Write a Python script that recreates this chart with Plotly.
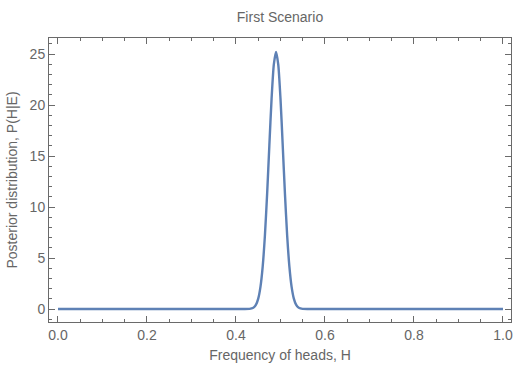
import plotly.graph_objects as go

# Values
freq_heads = [0.0, 0.40, 0.42, 0.43, 0.435, 0.44, 0.445, 0.45, 0.455, 0.46, 0.465, 0.47, 0.475,
              0.48, 0.485, 0.49, 0.495, 0.50, 0.505, 0.51, 0.515, 0.52, 0.525, 0.53,
              0.535, 0.54, 0.545, 0.55, 0.56, 0.58, 1.0]
posterior = [0.0, 0.0, 0.0, 0.02, 0.06, 0.17, 0.44, 1.02, 2.17, 4.16, 7.21, 11.31, 16.06,
             20.63, 23.97, 25.2, 23.97, 20.63, 16.06, 11.31, 7.21, 4.16, 2.17, 1.02,
             0.44, 0.17, 0.06, 0.02, 0.0, 0.0, 0.0]

x_ticks = [0.0, 0.2, 0.4, 0.6, 0.8, 1.0]
x_tick_labels = ["0.0", "0.2", "0.4", "0.6", "0.8", "1.0"]
y_ticks = [0, 5, 10, 15, 20, 25]

title_text = "First Scenario"
x_title = "Frequency of heads, H"
y_title = "Posterior distribution, P(H|E)"

text_color = "#666666"
frame_color = "#6a6a6a"
font_family = "Liberation Sans, Arial, sans-serif"

fig = go.Figure()
fig.add_trace(go.Scatter(
    x=freq_heads, y=posterior, mode="lines",
    line=dict(color="#5E81B5", width=2.4, shape="spline", smoothing=0.6),
    hoverinfo="skip", showlegend=False,
))

axis_common = dict(
    showgrid=False, zeroline=False, showline=True, linecolor=frame_color, linewidth=1,
    mirror="allticks", ticks="inside", ticklen=6, tickcolor=frame_color, tickwidth=1,
    tickfont=dict(family=font_family, size=14, color=text_color),
    automargin=False,
)

fig.update_layout(
    width=522, height=374,
    margin=dict(l=49, r=11, t=38, b=52),
    paper_bgcolor="white", plot_bgcolor="white",
    title=dict(text=title_text, x=(49 + 511) / 2 / 522, xanchor="center", y=1 - 17 / 374, yanchor="middle",
               font=dict(family=font_family, size=14, color=text_color)),
    xaxis=dict(
        range=[-0.0202, 1.018], tickvals=x_ticks, ticktext=x_tick_labels,
        title=dict(text=x_title, font=dict(family=font_family, size=14, color=text_color), standoff=8),
        minor=dict(dtick=0.05, ticks="inside", ticklen=3, tickcolor=frame_color, showgrid=False),
        **axis_common,
    ),
    yaxis=dict(
        range=[-1.27, 26.57], tickvals=y_ticks,
        title=dict(text=y_title, font=dict(family=font_family, size=14, color=text_color), standoff=8),
        minor=dict(dtick=1, ticks="inside", ticklen=3, tickcolor=frame_color, showgrid=False),
        **axis_common,
    ),
)

fig.write_html("out.html", config={"displayModeBar": False, "staticPlot": True},
               post_script="document.body.style.margin='0';document.body.style.overflow='hidden';")
